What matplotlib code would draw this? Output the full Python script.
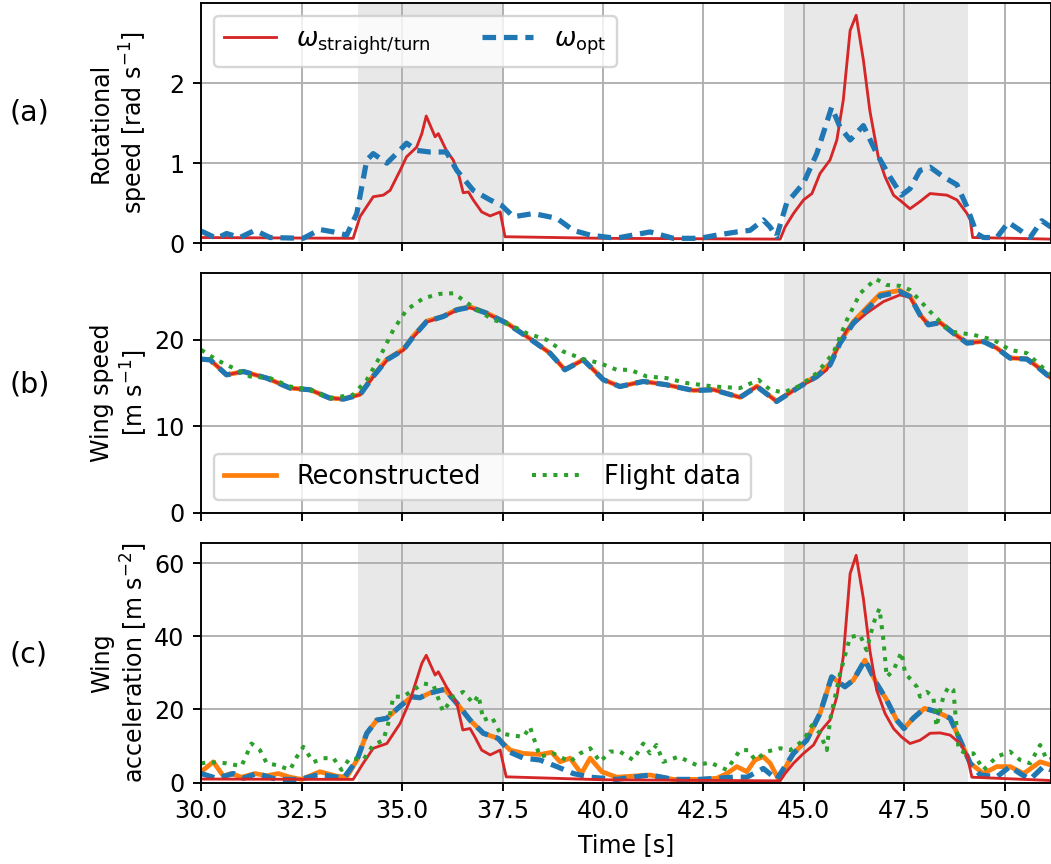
import numpy as np
import matplotlib
matplotlib.use('Agg')
import matplotlib.pyplot as plt

plt.rcParams.update({'font.size': 10})

#%% data

# shaded turn phases [s]
turns = [(33.91, 37.5), (44.51, 49.09)]

# (a) rotational speed [rad/s]
t_a_red = [30, 33.78, 33.95, 34.28, 34.53, 34.7, 34.95, 35.11, 35.36, 35.49, 35.6, 35.82, 35.9, 36.1,
           36.27, 36.4, 36.52, 36.65, 36.77, 36.98, 37.19, 37.44, 37.56, 40, 44.41, 44.53, 44.74, 44.99,
           45.2, 45.4, 45.65, 45.82, 45.98, 46.15, 46.3, 46.48, 46.64, 46.85, 47.02, 47.23, 47.43, 47.64,
           47.89, 48.14, 48.56, 48.81, 49.06, 49.14, 49.2, 51.15]
w_a_red = [0.07, 0.06, 0.33, 0.58, 0.6, 0.66, 0.91, 1.08, 1.2, 1.37, 1.59, 1.33, 1.37, 1.16,
           1.04, 0.87, 0.63, 0.64, 0.54, 0.39, 0.34, 0.39, 0.08, 0.06, 0.05, 0.2, 0.37, 0.54,
           0.62, 0.87, 1.04, 1.29, 1.79, 2.66, 2.85, 2.29, 1.66, 1.08, 0.83, 0.6, 0.52, 0.43,
           0.52, 0.62, 0.6, 0.54, 0.37, 0.29, 0.07, 0.05]

t_a_opt = [30, 30.38, 30.63, 30.96, 31.34, 31.71, 32.54, 32.95, 33.29, 33.62, 33.87, 34.12, 34.28,
           34.62, 34.86, 35.11, 35.36, 35.69, 36.1, 36.36, 36.77, 37.19, 37.48, 37.77, 38.27, 38.85,
           39.26, 39.68, 40.17, 40.42, 41.17, 41.75, 42.41, 42.83, 43.33, 43.66, 43.99, 44.16, 44.32,
           44.57, 44.99, 45.32, 45.69, 45.9, 46.15, 46.48, 46.81, 47.14, 47.43, 47.64, 47.89, 48.14,
           48.47, 48.81, 49.06, 49.3, 49.47, 49.8, 50.09, 50.38, 50.63, 50.92, 51.15]
w_a_opt = [0.15, 0.06, 0.12, 0.07, 0.16, 0.07, 0.06, 0.17, 0.14, 0.1, 0.37, 1.04, 1.12,
           1.0, 1.12, 1.25, 1.16, 1.14, 1.14, 0.91, 0.66, 0.54, 0.47, 0.33, 0.37, 0.31,
           0.16, 0.1, 0.07, 0.07, 0.14, 0.06, 0.06, 0.1, 0.14, 0.16, 0.29, 0.2, 0.08,
           0.5, 0.75, 1.12, 1.7, 1.45, 1.29, 1.47, 1.12, 0.83, 0.6, 0.68, 0.91, 0.95,
           0.83, 0.73, 0.45, 0.12, 0.07, 0.07, 0.26, 0.16, 0.07, 0.28, 0.2]

# (b) wing speed [m/s]
t_b = [30, 30.22, 30.63, 31.05, 31.63, 32.21, 32.71, 33.2, 33.54, 33.95, 34.28, 34.62, 35.03, 35.28,
       35.61, 36.02, 36.36, 36.69, 37.1, 37.6, 38.1, 38.68, 39.05, 39.51, 40.01, 40.42, 41.0, 41.58,
       42.25, 42.75, 43.41, 43.83, 44.32, 44.9, 45.32, 45.65, 45.9, 46.23, 46.56, 46.9, 47.39, 47.64,
       47.89, 48.1, 48.39, 48.72, 49.06, 49.47, 49.8, 50.13, 50.55, 50.8, 51.15]
v_b_opt = [17.76, 17.68, 15.95, 16.33, 15.57, 14.42, 14.22, 13.26, 13.15, 13.64, 15.76, 17.68, 18.83, 20.37,
           22.1, 22.68, 23.45, 23.76, 23.07, 21.91, 20.37, 18.45, 16.53, 17.68, 15.37, 14.6, 15.18, 14.8,
           14.14, 14.22, 13.34, 14.6, 12.87, 14.6, 15.76, 17.1, 19.61, 21.91, 23.45, 25.06, 25.56, 24.98,
           22.87, 21.72, 21.98, 20.76, 19.61, 19.79, 19.03, 17.88, 17.76, 16.91, 15.57]
v_b_rec = [17.76, 17.68, 15.95, 16.33, 15.57, 14.42, 14.22, 13.26, 13.15, 13.7, 15.85, 17.75, 18.9, 20.45,
           22.15, 22.7, 23.5, 23.8, 23.1, 21.95, 20.4, 18.45, 16.55, 17.7, 15.4, 14.6, 15.2, 14.8,
           14.15, 14.25, 13.35, 14.65, 12.9, 14.65, 15.85, 17.25, 19.8, 22.1, 23.7, 25.3, 25.7, 25.05,
           22.9, 21.75, 22.0, 20.8, 19.65, 19.8, 19.05, 17.9, 17.8, 16.95, 15.6]
t_b_red = [30, 30.22, 30.63, 31.05, 31.63, 32.21, 32.71, 33.2, 33.54, 33.95, 34.28, 34.62, 35.03, 35.28,
           35.61, 36.02, 36.36, 36.69, 37.1, 37.6, 38.1, 38.68, 39.05, 39.51, 40.01, 40.42, 41.0, 41.58,
           42.25, 42.75, 43.41, 43.83, 44.32, 44.9, 45.32, 45.57, 46.07, 46.56, 46.98, 47.39, 47.64,
           47.89, 48.1, 48.39, 48.72, 49.06, 49.47, 49.8, 50.13, 50.55, 50.8, 51.15]
v_b_red = [17.76, 17.68, 15.95, 16.33, 15.57, 14.42, 14.22, 13.26, 13.15, 13.64, 15.7, 17.6, 18.8, 20.3,
           22.05, 22.65, 23.4, 23.7, 23.05, 21.9, 20.37, 18.45, 16.53, 17.68, 15.37, 14.6, 15.18, 14.8,
           14.14, 14.22, 13.34, 14.6, 12.87, 14.6, 15.6, 16.53, 21.14, 23.07, 24.41, 25.18, 24.9,
           22.87, 21.72, 21.98, 20.76, 19.61, 19.79, 19.03, 17.88, 17.76, 16.91, 15.57]
t_b_fd = [30, 30.38, 30.8, 31.21, 31.71, 32.21, 32.71, 33.2, 33.78, 34.12, 34.45, 34.78, 35.11, 35.53,
          35.94, 36.27, 36.52, 36.86, 37.27, 37.69, 38.1, 38.6, 39.01, 39.51, 39.92, 40.34, 40.67, 41.09,
          41.58, 42.08, 42.75, 43.41, 43.87, 44.16, 44.49, 44.9, 45.32, 45.73, 46.07, 46.4, 46.79, 47.06,
          47.39, 47.64, 48.14, 48.64, 49.22, 49.72, 50.13, 50.55, 50.96, 51.15]
v_b_fd = [18.83, 17.68, 16.72, 15.76, 15.57, 14.6, 14.22, 13.26, 13.64, 15.37, 18.06, 21.14, 23.45, 24.8,
          25.3, 25.37, 24.6, 23.45, 22.3, 21.72, 20.76, 19.99, 18.64, 17.76, 17.3, 16.53, 16.53, 15.76,
          15.57, 15.0, 14.6, 14.42, 15.37, 14.22, 13.91, 14.68, 16.15, 18.45, 22.3, 25.37, 27.02, 26.33,
          26.22, 25.76, 23.26, 20.95, 20.57, 19.99, 18.83, 18.45, 16.72, 16.0]

# (c) wing acceleration [m/s^2]
t_c_red = [30, 33.78, 34.03, 34.28, 34.62, 34.95, 35.2, 35.49, 35.6, 35.82, 35.9, 36.1, 36.36, 36.51,
           36.69, 36.81, 36.98, 37.19, 37.44, 37.59, 40, 44.41, 44.53, 44.74, 44.99, 45.24, 45.44, 45.65,
           45.82, 45.98, 46.15, 46.3, 46.48, 46.64, 46.81, 47.02, 47.23, 47.43, 47.64, 47.89, 48.14, 48.39,
           48.64, 48.89, 49.06, 49.18, 51.15]
a_c_red = [1.0, 0.9, 5.3, 9.4, 10.7, 16.2, 22.6, 32.6, 34.8, 29.4, 30.3, 26.2, 21.7, 14.4,
           14.8, 12.5, 8.9, 7.6, 8.9, 1.6, 0.8, 0.5, 2.5, 5.3, 8.0, 10.3, 14.4, 17.1,
           23.5, 34.4, 57.1, 62.1, 50.3, 36.2, 25.3, 18.9, 14.8, 12.5, 10.7, 11.6, 13.5, 13.6,
           13.0, 10.7, 7.6, 1.5, 0.6]
t_c_opt = [30, 30.38, 30.8, 31.05, 31.38, 31.88, 32.46, 32.95, 33.54, 33.87, 34.12, 34.37, 34.62, 34.95,
           35.24, 35.44, 35.69, 36.06, 36.36, 36.69, 37.02, 37.39, 37.69, 38.02, 38.43, 38.85, 39.26, 39.68,
           40.34, 41.17, 41.75, 42.41, 42.83, 43.24, 43.58, 43.99, 44.32, 44.74, 45.07, 45.4, 45.69, 46.02,
           46.23, 46.52, 46.81, 47.06, 47.31, 47.49, 47.72, 48.0, 48.3, 48.64, 48.89, 49.14, 49.39, 49.8,
           50.13, 50.38, 50.63, 50.96, 51.15]
a_c_opt = [2.5, 1.2, 2.5, 1.2, 2.5, 0.9, 0.9, 2.3, 1.2, 6.1, 13.5, 17.1, 17.6, 20.9,
           23.5, 23.2, 24.5, 25.5, 21.7, 17.1, 13.5, 12.1, 8.3, 6.7, 6.2, 4.4, 2.5, 1.5,
           0.9, 2.1, 0.9, 0.9, 1.2, 1.5, 1.5, 3.9, 0.9, 8.0, 11.6, 18.9, 28.9, 26.2,
           28.0, 33.5, 27.1, 22.6, 17.1, 14.8, 17.6, 20.3, 19.4, 17.6, 11.6, 5.3, 2.1, 1.6,
           4.4, 2.5, 0.9, 4.4, 3.5]
t_c_rec = [30, 30.3, 30.55, 30.75, 31.0, 31.34, 31.63, 31.92, 32.21, 32.5, 32.95, 33.37, 33.62, 33.87,
           34.12, 34.37, 34.62, 34.95, 35.24, 35.44, 35.69, 36.06, 36.36, 36.69, 37.02, 37.39, 37.69, 38.02,
           38.43, 38.72, 38.93, 39.18, 39.46, 39.68, 39.97, 40.34, 41.17, 41.75, 42.41, 42.83, 43.08, 43.33,
           43.58, 43.78, 43.99, 44.16, 44.37, 44.74, 45.07, 45.4, 45.69, 46.02, 46.23, 46.52, 46.81, 47.06,
           47.31, 47.49, 47.72, 48.0, 48.3, 48.64, 48.89, 49.14, 49.47, 49.8, 50.13, 50.47, 50.88, 51.15]
a_c_rec = [3.0, 5.7, 1.8, 2.5, 1.5, 2.5, 1.9, 2.5, 1.5, 0.9, 3.0, 1.8, 1.5, 6.1,
           13.5, 17.1, 17.6, 20.9, 23.5, 23.2, 24.5, 25.5, 21.7, 17.1, 13.5, 12.1, 8.9, 8.0,
           7.7, 8.3, 5.7, 6.7, 2.5, 6.7, 3.0, 1.5, 2.1, 0.9, 0.9, 1.2, 2.5, 4.4,
           3.0, 6.2, 7.1, 5.3, 0.9, 8.0, 11.6, 18.9, 28.9, 26.2, 28.0, 33.5, 27.1, 22.6,
           17.1, 14.8, 17.6, 20.3, 19.4, 17.6, 11.6, 5.3, 2.5, 4.4, 4.4, 2.5, 5.7, 4.8]
t_c_fd = [30, 30.22, 30.63, 31.0, 31.25, 31.46, 31.63, 31.88, 32.21, 32.38, 32.54, 32.79, 33.04, 33.29,
          33.49, 33.7, 34.03, 34.28, 34.53, 34.65, 34.78, 35.03, 35.2, 35.53, 35.78, 36.02, 36.27, 36.52,
          36.77, 36.9, 37.02, 37.23, 37.44, 37.69, 38.02, 38.18, 38.43, 38.76, 39.18, 39.43, 39.68, 39.93,
          40.17, 40.42, 40.75, 41.0, 41.17, 41.33, 41.5, 41.88, 42.33, 42.66, 43.08, 43.41, 43.62, 43.78,
          44.08, 44.41, 44.66, 44.99, 45.2, 45.4, 45.57, 45.65, 45.9, 46.15, 46.4, 46.56, 46.73, 46.88,
          46.98, 47.06, 47.23, 47.43, 47.52, 47.68, 47.81, 47.89, 48.06, 48.22, 48.3, 48.47, 48.6, 48.72,
          48.77, 48.85, 49.06, 49.22, 49.47, 49.8, 50.13, 50.38, 50.63, 50.88, 51.05, 51.15]
a_c_fd = [5.3, 5.6, 5.3, 4.5, 10.7, 8.9, 5.3, 4.8, 3.5, 7.1, 9.8, 5.6, 6.7, 6.7,
          3.5, 6.7, 6.2, 10.3, 11.6, 16.0, 23.5, 23.5, 24.8, 27.1, 26.6, 19.4, 23.5, 24.8,
          21.7, 23.9, 17.1, 18.0, 13.5, 13.0, 12.5, 15.3, 7.1, 8.0, 5.7, 8.0, 9.4, 5.7,
          8.5, 8.5, 6.2, 10.7, 8.0, 10.3, 5.7, 7.1, 4.8, 5.5, 3.5, 8.9, 8.9, 6.2,
          8.5, 9.4, 8.9, 11.6, 15.7, 13.5, 8.9, 17.1, 29.8, 39.8, 40.3, 36.2, 43.5, 47.6,
          38.9, 28.9, 30.7, 35.7, 29.8, 28.0, 26.2, 23.5, 24.8, 23.5, 15.3, 23.5, 26.2, 25.3,
          18.9, 8.9, 8.0, 8.0, 3.5, 7.1, 8.5, 6.2, 5.3, 10.3, 6.2, 6.5]

#%% plot
dpi = 171
fig, axs = plt.subplots(3, 1, sharex=True, figsize=(1051/dpi, 864/dpi), dpi=dpi)
plt.subplots_adjust(left=0.1915, right=1.0, top=1-3.3/864, bottom=0.0941, hspace=0.125)

st_red = dict(color='tab:red', lw=1.2)
st_opt = dict(color='tab:blue', lw=2.2, ls=(0, (2.6, 1.5)))
st_rec = dict(color='tab:orange', lw=2.0)
st_fd = dict(color='tab:green', lw=1.7, ls=':')

ax = axs[0]
ax.plot(t_a_red, w_a_red, label=r'$\omega_{\mathrm{straight/turn}}$', **st_red)
ax.plot(t_a_opt, w_a_opt, label=r'$\omega_{\mathrm{opt}}$', **st_opt)
ax.set_ylim(0, 3.0)
ax.set_yticks([0, 1, 2])
ax.set_ylabel('Rotational\nspeed [rad s$^{-1}$]')
ax.legend(loc='upper left', ncol=2, fontsize=10.8)

ax = axs[1]
ax.plot(t_b, v_b_rec, label='Reconstructed', **st_rec)
ax.plot(t_b_red, v_b_red, **st_red)
ax.plot(t_b, v_b_opt, **st_opt)
ax.plot(t_b_fd, v_b_fd, label='Flight data', **st_fd)
ax.set_ylim(0, 27.7)
ax.set_yticks([0, 10, 20])
ax.set_ylabel('Wing speed\n[m s$^{-1}$]')
ax.legend(loc='lower left', ncol=2, fontsize=10.8)

ax = axs[2]
ax.plot(t_c_rec, a_c_rec, **st_rec)
ax.plot(t_c_opt, a_c_opt, **st_opt)
ax.plot(t_c_red, a_c_red, **st_red)
ax.plot(t_c_fd, a_c_fd, **st_fd)
ax.set_ylim(0, 65.5)
ax.set_yticks([0, 20, 40, 60])
ax.set_ylabel('Wing\nacceleration [m s$^{-2}$]')
ax.set_xlabel('Time [s]')

for ax in axs:
    for t0, t1 in turns:
        ax.axvspan(t0, t1, color='lightgray', alpha=0.5, lw=0)
    ax.grid(True)
    ax.yaxis.set_label_coords(-0.06, 0.5)
ax.set_xlim(30, 51.15)
ax.set_xticks(np.arange(30, 51, 2.5))
ax.xaxis.set_major_formatter(matplotlib.ticker.FormatStrFormatter('%.1f'))

for lab, yp in zip(['(a)', '(b)', '(c)'], [113, 385, 655]):
    fig.text(10/1051, 1 - yp/864, lab, fontsize=12, va='center', ha='left')

plt.savefig('out.png', dpi=dpi)
